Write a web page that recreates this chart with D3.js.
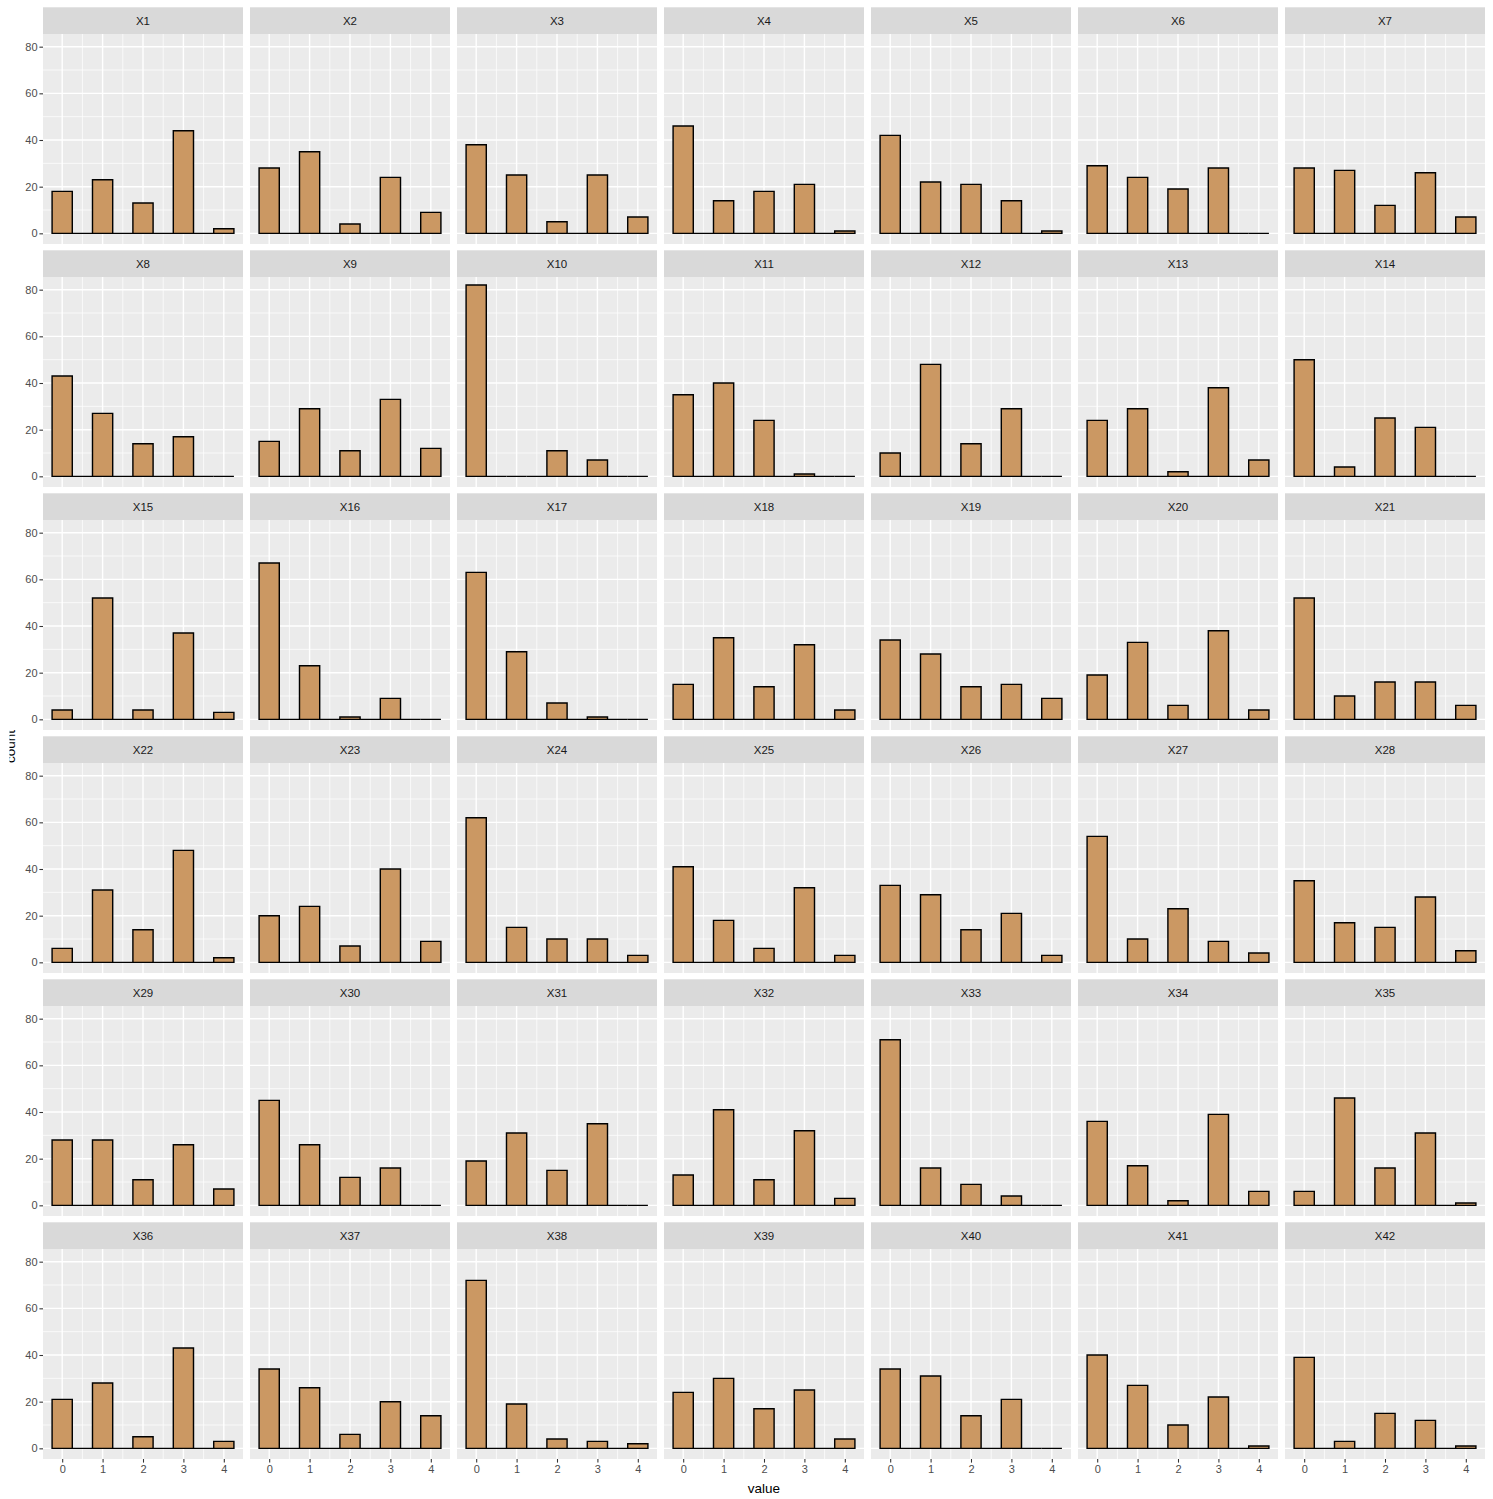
<!DOCTYPE html>
<html><head><meta charset="utf-8">
<script src="https://cdn.jsdelivr.net/npm/d3@7"></script>
<style>
body{margin:0;background:#fff}
text{font-family:"Liberation Sans",Arial,sans-serif}
</style>
</head><body>
<svg id="chart" width="1493" height="1499"></svg>
<script>
// ---- data ----
const categories = [0, 1, 2, 3, 4];
const panelNames = ["X1","X2","X3","X4","X5","X6","X7","X8","X9","X10","X11","X12","X13","X14",
  "X15","X16","X17","X18","X19","X20","X21","X22","X23","X24","X25","X26","X27","X28",
  "X29","X30","X31","X32","X33","X34","X35","X36","X37","X38","X39","X40","X41","X42"];
const counts = [
  [18,23,13,44,2],[28,35,4,24,9],[38,25,5,25,7],[46,14,18,21,1],[42,22,21,14,1],[29,24,19,28,0],[28,27,12,26,7],
  [43,27,14,17,0],[15,29,11,33,12],[82,0,11,7,0],[35,40,24,1,0],[10,48,14,29,0],[24,29,2,38,7],[50,4,25,21,0],
  [4,52,4,37,3],[67,23,1,9,0],[63,29,7,1,0],[15,35,14,32,4],[34,28,14,15,9],[19,33,6,38,4],[52,10,16,16,6],
  [6,31,14,48,2],[20,24,7,40,9],[62,15,10,10,3],[41,18,6,32,3],[33,29,14,21,3],[54,10,23,9,4],[35,17,15,28,5],
  [28,28,11,26,7],[45,26,12,16,0],[19,31,15,35,0],[13,41,11,32,3],[71,16,9,4,0],[36,17,2,39,6],[6,46,16,31,1],
  [21,28,5,43,3],[34,26,6,20,14],[72,19,4,3,2],[24,30,17,25,4],[34,31,14,21,0],[40,27,10,22,1],[39,3,15,12,1]
];
const xTicks = [0, 1, 2, 3, 4];
const xMinor = [0.5, 1.5, 2.5, 3.5];
const yTicks = [0, 20, 40, 60, 80];
const yMinor = [10, 30, 50, 70];
const binWidth = 0.5;

// ---- layout ----
const nCols = 7, nRows = 6;
const left0 = 43, colStep = 207, panelW = 200;
const top0 = 7.3, rowStep = 243, stripH = 26.7, panelH = 210;

const svg = d3.select("#chart");
const x = d3.scaleLinear().domain([-0.475, 4.475]).range([0, panelW]);
const y = d3.scaleLinear().domain([-4.57, 85.43]).range([panelH, 0]);

panelNames.forEach((name, i) => {
  const col = i % nCols, row = Math.floor(i / nCols);
  const px = left0 + col * colStep;
  const sy = top0 + row * rowStep;
  const py = sy + stripH;

  // strip
  const s = svg.append("g").attr("transform", `translate(${px},${sy})`);
  s.append("rect").attr("width", panelW).attr("height", stripH).attr("fill", "#D9D9D9");
  s.append("text").attr("x", panelW / 2).attr("y", stripH / 2).attr("dy", "0.36em")
    .attr("text-anchor", "middle").attr("font-size", 11.5).attr("fill", "#1A1A1A").text(name);

  const g = svg.append("g").attr("transform", `translate(${px},${py})`);
  g.append("rect").attr("width", panelW).attr("height", panelH).attr("fill", "#EBEBEB");

  // minor grid
  g.selectAll(".mx").data(xMinor).join("line")
    .attr("x1", d => x(d)).attr("x2", d => x(d)).attr("y1", 0).attr("y2", panelH)
    .attr("stroke", "#fff").attr("stroke-width", 0.71);
  g.selectAll(".my").data(yMinor).join("line")
    .attr("y1", d => y(d)).attr("y2", d => y(d)).attr("x1", 0).attr("x2", panelW)
    .attr("stroke", "#fff").attr("stroke-width", 0.71);
  // major grid
  g.selectAll(".Mx").data(xTicks).join("line")
    .attr("x1", d => x(d)).attr("x2", d => x(d)).attr("y1", 0).attr("y2", panelH)
    .attr("stroke", "#fff").attr("stroke-width", 1.42);
  g.selectAll(".My").data(yTicks).join("line")
    .attr("y1", d => y(d)).attr("y2", d => y(d)).attr("x1", 0).attr("x2", panelW)
    .attr("stroke", "#fff").attr("stroke-width", 1.42);

  // histogram bins (empty half-step bins are drawn flat)
  const vals = counts[i];
  const bins = [];
  categories.forEach((c, k) => {
    bins.push({ c: c, n: vals[k] });
    if (k < categories.length - 1) bins.push({ c: c + binWidth, n: 0 });
  });
  g.selectAll(".bar").data(bins).join("path")
    .attr("d", d => {
      const x0 = x(d.c - binWidth / 2), x1 = x(d.c + binWidth / 2);
      const y0 = y(0), y1 = y(d.n);
      return `M${x0},${y0}L${x0},${y1}L${x1},${y1}L${x1},${y0}Z`;
    })
    .attr("fill", "#CB9863").attr("stroke", "#000").attr("stroke-width", 1.42)
    .attr("stroke-linejoin", "miter");

  // y axis on first column
  if (col === 0) {
    const ay = g.append("g").call(d3.axisLeft(y).tickValues(yTicks).tickFormat(d3.format("d"))
      .tickSize(3.6).tickPadding(1.8));
    ay.select(".domain").remove();
    ay.selectAll("line").attr("stroke", "#333333").attr("stroke-width", 1.07);
    ay.selectAll("text").attr("font-size", 11).attr("fill", "#4D4D4D")
      .attr("font-family", "Liberation Sans, Arial, sans-serif");
  }
  // x axis on bottom row
  if (row === nRows - 1) {
    const ax = g.append("g").attr("transform", `translate(0,${panelH})`)
      .call(d3.axisBottom(x).tickValues(xTicks).tickFormat(d3.format("d"))
        .tickSize(3.6).tickPadding(2.4));
    ax.select(".domain").remove();
    ax.selectAll("line").attr("stroke", "#333333").attr("stroke-width", 1.07);
    ax.selectAll("text").attr("font-size", 11).attr("fill", "#4D4D4D")
      .attr("font-family", "Liberation Sans, Arial, sans-serif");
  }
});

// axis titles
const plotLeft = left0, plotRight = left0 + (nCols - 1) * colStep + panelW;
const plotTop = top0 + stripH, plotBottom = top0 + (nRows - 1) * rowStep + stripH + panelH;
svg.append("text").attr("x", (plotLeft + plotRight) / 2).attr("y", 1493)
  .attr("text-anchor", "middle").attr("font-size", 13.5).attr("fill", "#000").text("value");

svg.append("clipPath").attr("id", "lclip").append("rect")
  .attr("x", 9.5).attr("y", 0).attr("width", 40).attr("height", 1499);
svg.append("g").attr("clip-path", "url(#lclip)")
  .append("text").attr("transform", `translate(15,${(plotTop + plotBottom) / 2}) rotate(-90)`)
  .attr("text-anchor", "middle").attr("font-size", 13.5).attr("fill", "#000").text("count");
</script>
</body></html>
